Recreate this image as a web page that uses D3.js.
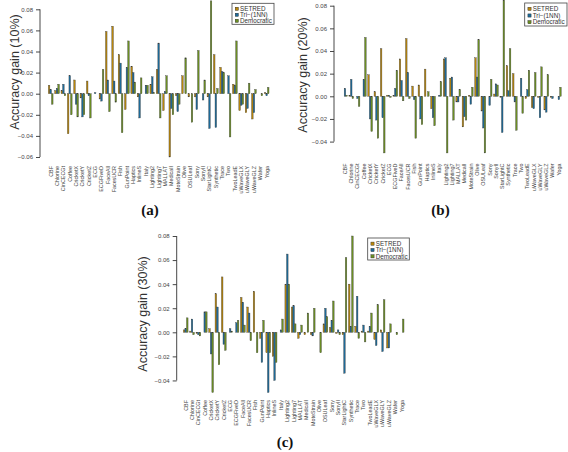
<!DOCTYPE html>
<html><head><meta charset="utf-8">
<script src="https://cdn.jsdelivr.net/npm/d3@7"></script>
<style>body{margin:0;background:#fff}svg{display:block}text{font-family:"Liberation Sans",Arial,sans-serif}</style>
</head><body>
<script>
const categories = ["CBF","Chlorine","CinCECGt","Coffee","CricketX","CricketY","CricketZ","ECG","ECGFiveD","FaceAll","FacesUCR","Fish","GunPoint","Haptics","InlineS","Italy","Lighting2","Lighting7","MALLAT","MedicalI","MoteStrain","Olive","OSULeaf","Sony","SonyII","StarLightC","Synthetic","Trace","Two","TwoLeadE","uWaveGLX","uWaveGLY","uWaveGLZ","Wafer","Yoga"];
const seriesNames = ["SETRED","Tri\u2212(1NN)","Democratic"];

// 10% labelled
const setred10 = [0.008,0.003,0.003,-0.038,0.013,-0.004,0.012,0.000,-0.005,0.059,0.064,0.037,-0.015,0.026,-0.003,0.000,0.009,0.023,-0.016,-0.060,-0.002,0.017,-0.003,-0.003,0.000,-0.003,0.037,0.025,0.000,0.009,-0.016,-0.018,-0.024,0.000,0.001];
const tri10    = [0.004,0.005,0.009,0.017,-0.010,-0.022,-0.002,0.001,-0.007,0.013,0.012,0.029,0.025,0.020,-0.023,0.008,0.016,0.048,0.002,-0.014,-0.017,0.000,0.000,-0.015,-0.006,-0.033,-0.032,0.021,0.017,0.008,-0.011,-0.014,-0.018,0.000,-0.002];
const dem10    = [-0.010,0.009,-0.002,-0.020,-0.022,-0.020,-0.023,0.000,0.023,-0.017,-0.008,-0.037,0.050,0.011,0.015,0.008,0.001,-0.023,0.017,-0.020,-0.010,0.034,-0.027,0.041,0.013,0.088,0.005,0.020,-0.041,0.050,-0.010,0.010,0.004,-0.002,0.006];
// 20% labelled
const setred20 = [0.000,0.001,0.000,0.000,0.019,0.004,0.042,0.001,0.001,0.033,0.051,0.009,0.010,0.024,-0.011,0.000,0.033,0.016,-0.005,-0.027,0.001,0.034,-0.013,0.000,0.002,-0.001,0.027,0.020,0.000,-0.002,-0.010,-0.001,-0.012,-0.001,0.000];
const tri20    = [0.007,0.015,-0.002,0.015,-0.020,-0.021,-0.019,0.001,0.007,0.014,0.021,-0.003,-0.020,0.000,-0.019,0.001,0.034,0.017,-0.005,-0.018,-0.007,0.017,-0.028,-0.008,0.011,-0.032,0.005,-0.005,0.016,0.006,-0.011,-0.019,-0.014,-0.002,-0.003];
const dem20    = [0.001,-0.002,-0.009,0.052,-0.031,-0.037,-0.050,-0.001,0.023,-0.004,-0.002,-0.037,-0.025,0.004,-0.026,0.013,-0.050,-0.021,0.006,-0.021,0.008,0.050,-0.050,0.015,0.010,0.085,0.042,-0.030,-0.015,0.023,0.021,0.026,0.019,0.000,0.008];
// 30% labelled
const setred30 = [0.002,0.001,-0.001,0.000,0.003,0.032,0.046,0.000,0.000,0.029,0.021,0.034,-0.005,-0.017,-0.020,0.000,0.040,0.021,-0.005,-0.002,-0.002,0.000,0.007,0.004,-0.001,-0.002,0.040,0.005,0.001,0.001,-0.006,0.002,-0.013,0.000,0.000];
const tri30    = [0.003,0.011,-0.002,0.017,-0.018,0.021,-0.010,0.003,0.008,0.025,0.016,0.000,-0.025,-0.050,-0.040,0.002,0.065,0.022,-0.002,0.000,-0.003,0.000,0.020,0.010,0.002,-0.034,0.005,0.030,0.006,0.005,-0.011,-0.016,-0.013,0.000,0.000];
const dem30    = [0.012,-0.002,-0.003,0.017,-0.050,-0.027,-0.015,0.001,0.010,0.006,-0.007,-0.017,0.010,-0.017,-0.025,0.011,0.040,0.007,0.006,0.016,0.020,-0.017,0.013,0.026,-0.002,0.062,0.080,-0.005,-0.008,0.016,0.023,0.027,0.007,-0.002,0.011];

const ticks10 = [0.08,0.06,0.04,0.02,0.00,-0.02,-0.04,-0.06];
const ticks20 = [0.08,0.06,0.04,0.02,0.00,-0.02,-0.04];
const ticks30 = [0.08,0.06,0.04,0.02,0.00,-0.02,-0.04];
const yTitles = ["Accuracy gain (10%)","Accuracy gain (20%)","Accuracy gain (30%)"];
const captions = ["(a)","(b)","(c)"];

const colors = ["#b8860b","#1d6a98","#6b8e23"];
const W = 568, H = 452;
const svg = d3.select("body").append("svg").attr("width", W).attr("height", H);

const panels = [
  {series:[setred10,tri10,dem10], ticks:ticks10, title:yTitles[0], cap:captions[0],
   x0:47.5, x1:269.8, yTop:9.3, yZero:93.7, axisX:40, titleX:18.5, titleY:72,
   labelTop:166, capX:150, capY:215, lg:{x:232, y:3.3, w:42, h:21}},
  {series:[setred20,tri20,dem20], ticks:ticks20, title:yTitles[1], cap:captions[1],
   x0:341.8, x1:562, yTop:5.7, yZero:96.3, axisX:334, titleX:306.5, titleY:75,
   labelTop:163.5, capX:440.5, capY:215, lg:{x:524.7, y:3, w:42.3, h:23}},
  {series:[setred30,tri30,dem30], ticks:ticks30, title:yTitles[2], cap:captions[2],
   x0:182.5, x1:404.8, yTop:236, yZero:332.3, axisX:176.7, titleX:147, titleY:314,
   labelTop:400, capX:285, capY:447, lg:{x:367.7, y:238, w:41.6, h:22}}
];

panels.forEach(p => {
  const g = svg.append("g");
  const x = d3.scaleBand().domain(categories).range([p.x0, p.x1]).paddingInner(0.25).paddingOuter(0.125);
  const xs = d3.scaleBand().domain(d3.range(3)).range([0, x.bandwidth()]);
  const y = d3.scaleLinear().domain([0, 0.08]).range([p.yZero, p.yTop]);

  p.series.forEach((vals, si) => {
    g.append("g").selectAll("rect").data(vals).join("rect")
      .attr("x", (d, i) => x(categories[i]) + xs(si))
      .attr("y", d => Math.min(y(d), y(0)))
      .attr("width", xs.bandwidth())
      .attr("height", d => Math.abs(y(d) - y(0)))
      .attr("fill", colors[si])
      .attr("stroke", "#3a3a3a")
      .attr("stroke-width", 0.35);
  });

  const ax = g.append("g").attr("transform", `translate(${p.axisX},0)`)
    .call(d3.axisLeft(y).tickValues(p.ticks).tickSize(4).tickPadding(3)
      .tickFormat(d => (d < 0 ? "\u2212" : "") + Math.abs(d).toFixed(2)));
  ax.attr("font-family", null);
  ax.select(".domain").attr("d", `M0,${y(p.ticks[0])}V${y(p.ticks[p.ticks.length-1])}`)
    .attr("stroke", "#333").attr("stroke-width", 0.9);
  ax.selectAll(".tick line").attr("stroke", "#333").attr("stroke-width", 0.9);
  ax.selectAll(".tick text").attr("font-size", 6).attr("fill", "#444");

  g.append("text").attr("transform", `translate(${p.titleX},${p.titleY}) rotate(-90)`)
    .attr("text-anchor", "middle").attr("font-size", 12.5).attr("fill", "#333")
    .text(p.title);

  g.append("g").selectAll("text").data(categories).join("text")
    .attr("transform", d => `translate(${x(d) + x.bandwidth()/2 + 1.9},${p.labelTop}) rotate(-90)`)
    .attr("text-anchor", "end").attr("font-size", 5.4).attr("fill", "#444")
    .text(d => d);

  g.append("text").attr("x", p.capX).attr("y", p.capY).attr("text-anchor", "middle")
    .style("font-family", "'Liberation Serif', 'Times New Roman', serif")
    .attr("font-weight", "bold").attr("font-size", 15).attr("fill", "#111")
    .text(p.cap);

  const lg = g.append("g").attr("transform", `translate(${p.lg.x},${p.lg.y})`);
  lg.append("rect").attr("width", p.lg.w).attr("height", p.lg.h)
    .attr("fill", "#fff").attr("stroke", "#444").attr("stroke-width", 0.8);
  const rowH = (p.lg.h - 3) / 3;
  seriesNames.forEach((n, i) => {
    const cy = 2.5 + rowH * (i + 0.5);
    lg.append("rect").attr("x", 3.2).attr("y", cy - 1.6).attr("width", 3.2).attr("height", 3.2)
      .attr("fill", colors[i]).attr("stroke", "#222").attr("stroke-width", 0.4);
    lg.append("text").attr("x", 8).attr("y", cy).attr("dy", "0.35em")
      .attr("font-size", 6.3).attr("fill", "#333").text(n);
  });
});
</script>
</body></html>
